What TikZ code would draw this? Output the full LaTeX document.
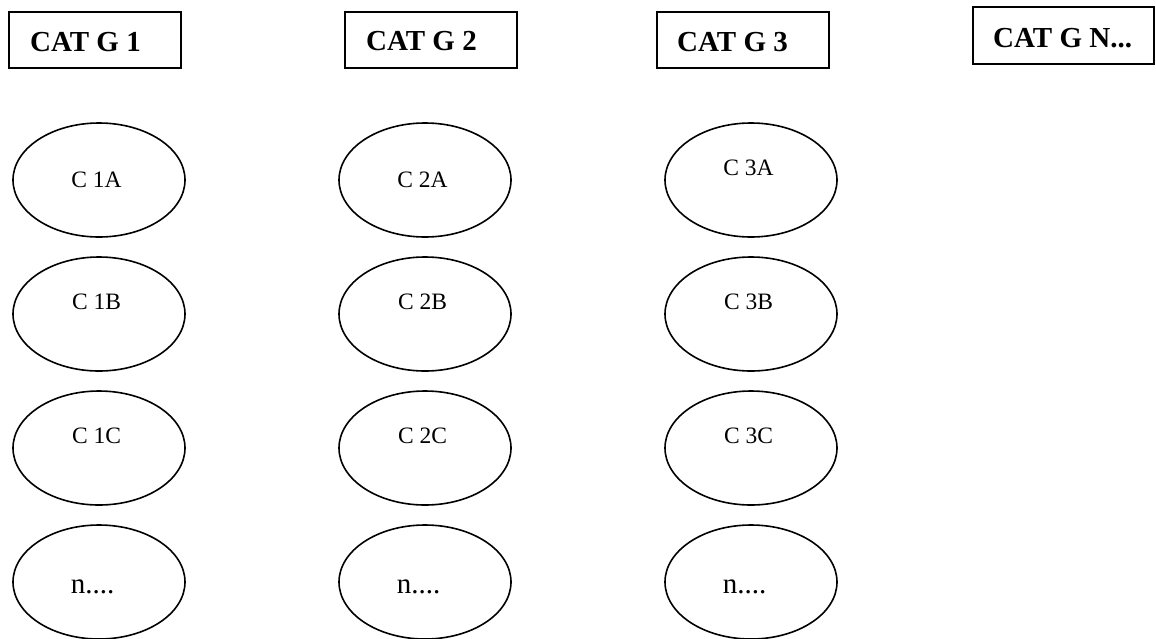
\documentclass[tikz,border=0pt]{standalone}
\usepackage{fontspec}
\setmainfont{Liberation Serif}
\usetikzlibrary{shapes.geometric}
\begin{document}
\begin{tikzpicture}[x=1pt,y=-1pt,
  catbox/.style={draw, line width=1.8pt, rectangle, inner sep=0pt, minimum height=56.5pt},
  cattext/.style={anchor=base west, inner sep=0pt, font=\fontsize{29}{31}\selectfont\bfseries},
  cell/.style={draw, line width=1.6pt, ellipse, inner sep=0pt, minimum width=172pt, minimum height=114pt},
  celltext/.style={anchor=base, inner sep=0pt, font=\fontsize{23.5}{25}\selectfont},
  moretext/.style={anchor=base, inner sep=0pt, font=\fontsize{29}{31}\selectfont}]
\useasboundingbox (0,0) rectangle (1156,638);
% category boxes
\node[catbox, minimum width=172.5pt] (g1) at (95,40) {};
\node[catbox, minimum width=172.5pt] (g2) at (431,40) {};
\node[catbox, minimum width=172.5pt] (g3) at (743,40) {};
\node[catbox, minimum width=181.5pt] (g4) at (1063.5,35.5) {};
\node[cattext] (t1) at (30,51) {CAT G 1};
\node[cattext] (t2) at (366,50) {CAT G 2};
\node[cattext] (t3) at (677,51) {CAT G 3};
\node[cattext] (t4) at (993,47) {CAT G N...};
% column 1
\node[cell] (c1a) at (99,180) {};
\node[cell] (c1b) at (99,314) {};
\node[cell] (c1c) at (99,448) {};
\node[cell] (c1n) at (99,582) {};
\node[celltext] (l1a) at (96.5,187) {C 1A};
\node[celltext] (l1b) at (96.5,309) {C 1B};
\node[celltext] (l1c) at (96.5,443) {C 1C};
\node[moretext] (l1n) at (92.5,593) {n....};
% column 2
\node[cell] (c2a) at (425,180) {};
\node[cell] (c2b) at (425,314) {};
\node[cell] (c2c) at (425,448) {};
\node[cell] (c2n) at (425,582) {};
\node[celltext] (l2a) at (422.5,187) {C 2A};
\node[celltext] (l2b) at (422.5,309) {C 2B};
\node[celltext] (l2c) at (422.5,443) {C 2C};
\node[moretext] (l2n) at (418.5,593) {n....};
% column 3
\node[cell] (c3a) at (751,180) {};
\node[cell] (c3b) at (751,314) {};
\node[cell] (c3c) at (751,448) {};
\node[cell] (c3n) at (751,582) {};
\node[celltext] (l3a) at (748.5,175) {C 3A};
\node[celltext] (l3b) at (748.5,309) {C 3B};
\node[celltext] (l3c) at (748.5,443) {C 3C};
\node[moretext] (l3n) at (744.5,593) {n....};
\end{tikzpicture}
\end{document}
